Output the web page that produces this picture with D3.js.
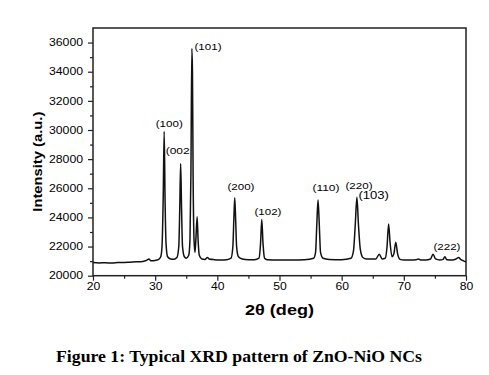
<!DOCTYPE html>
<html>
<head>
<meta charset="utf-8">
<style>
  body { margin: 0; background: #fff; }
  text { font-family: "Liberation Sans", Arial, sans-serif; fill: #000; }
</style>
</head>
<body>
<svg width="489" height="375"></svg>
<script src="https://cdn.jsdelivr.net/npm/d3@7"></script>
<script>

// XRD pattern: 2theta (deg) and intensity (a.u.)
var twoTheta = [20.0, 21.0, 22.0, 23.0, 24.0, 25.0, 26.0, 27.0, 28.0, 28.6, 29.0, 29.3, 30.0, 30.5, 30.9,
  31.1, 31.3, 31.45, 31.6, 31.75, 32.0, 32.5, 33.0, 33.5, 33.8, 33.95, 34.1, 34.25, 34.4, 34.7,
  35.0, 35.4, 35.6, 35.75, 35.9, 36.0, 36.1, 36.25, 36.4, 36.55, 36.75, 36.9, 37.1, 37.5, 38.0,
  38.4, 38.7, 39.5, 40.5, 41.5, 42.2, 42.5, 42.65, 42.8, 42.95, 43.1, 43.4, 44.0, 45.0, 46.0,
  46.7, 46.95, 47.15, 47.35, 47.6, 48.0, 50.0, 52.0, 54.0, 55.5, 55.8, 56.0, 56.2, 56.4, 56.6,
  57.0, 58.0, 60.0, 61.5, 61.9, 62.2, 62.45, 62.7, 63.0, 63.4, 64.0, 65.5, 66.05, 66.5, 67.0,
  67.3, 67.55, 67.8, 68.1, 68.4, 68.7, 69.0, 69.4, 70.0, 71.0, 72.0, 72.3, 72.7, 73.5, 74.3,
  74.7, 75.1, 75.8, 76.3, 76.6, 76.9, 77.8, 78.4, 78.8, 79.2, 79.6, 80.0];
var intensity = [20900, 20880, 20890, 20870, 20900, 20910, 20930, 20950, 20980, 21050, 21150, 21020, 21050, 21100, 21300,
  22000, 25500, 29900, 25000, 22200, 21300, 21150, 21130, 21250, 22000, 24500, 27700, 24500, 22000, 21300,
  21200, 21400, 22500, 27000, 35600, 34000, 27000, 22500, 21600, 22500, 24050, 22500, 21400, 21150, 21120,
  21250, 21150, 21100, 21080, 21100, 21200, 22000, 23800, 25350, 23800, 22000, 21300, 21150, 21100, 21100,
  21200, 22200, 23850, 22200, 21200, 21100, 21080, 21080, 21100, 21200, 21600, 23500, 25200, 23500, 21600,
  21200, 21120, 21100, 21200, 21700, 23600, 25380, 23500, 21800, 21250, 21150, 21150, 21480, 21150, 21200,
  22000, 23550, 22200, 21300, 21500, 22300, 21500, 21120, 21080, 21080, 21100, 21150, 21080, 21080, 21150,
  21480, 21150, 21080, 21120, 21300, 21100, 21080, 21150, 21250, 21100, 21020, 20950];

// reflection labels, anchored in data units
var peakLabels = ["(100)", "(002", "(101)", "(200)", "(102)", "(110)", "(220)", "(103)", "(222)"];
var labelTheta = [32.27, 31.69, 38.5, 43.8, 48.15, 57.48, 62.79, 65.15, 76.94];
var labelInt = [30230, 28330, 35500, 25880, 24170, 25840, 25950, 25270, 21770];

var xTicks = [20, 30, 40, 50, 60, 70, 80];
var yTicks = [20000, 22000, 24000, 26000, 28000, 30000, 32000, 34000, 36000];

var svg = d3.select("svg"),
    mLeft = 93, mRight = 466, mTop = 28, mBottom = 275.7;

var x = d3.scaleLinear().domain([20, 80]).range([mLeft, mRight]);
var y = d3.scaleLinear().domain([20000, 37000]).range([mBottom, mTop]);

svg.append("rect").attr("width", 489).attr("height", 375).attr("fill", "#fff");

function stretch(sel, perChar) {
  sel.attr("textLength", function() { return this.textContent.length * perChar; })
     .attr("lengthAdjust", "spacingAndGlyphs");
}

// minor ticks
svg.append("g")
    .attr("transform", "translate(0," + mBottom + ")")
    .call(d3.axisBottom(x).tickValues(d3.range(25, 80, 10)).tickSize(3).tickFormat(""))
    .call(function(g) { g.select(".domain").remove(); });
svg.append("g")
    .attr("transform", "translate(" + mLeft + ",0)")
    .call(d3.axisLeft(y).tickValues(d3.range(21000, 37000, 2000)).tickSize(3).tickFormat(""))
    .call(function(g) { g.select(".domain").remove(); });

// major ticks
var gx = svg.append("g")
    .attr("transform", "translate(0," + mBottom + ")")
    .call(d3.axisBottom(x).tickValues(xTicks).tickSize(5).tickPadding(2).tickFormat(d3.format("d")));
gx.select(".domain").remove();
gx.selectAll("text").attr("font-size", 10).call(stretch, 6.75);

var gy = svg.append("g")
    .attr("transform", "translate(" + mLeft + ",0)")
    .call(d3.axisLeft(y).tickValues(yTicks).tickSize(5).tickPadding(5).tickFormat(d3.format("d")));
gy.select(".domain").remove();
gy.selectAll("text").attr("font-size", 10).call(stretch, 6.8);

svg.selectAll(".tick line").attr("stroke", "#222").attr("stroke-width", 1.2);

// frame
svg.append("rect")
    .attr("x", mLeft).attr("y", mTop)
    .attr("width", mRight - mLeft).attr("height", mBottom - mTop)
    .attr("fill", "none").attr("stroke", "#222").attr("stroke-width", 1.5);

// pattern
var line = d3.line()
    .x(function(d, i) { return x(twoTheta[i]); })
    .y(function(d) { return y(d); })
    .curve(d3.curveMonotoneX);

svg.append("path")
    .datum(intensity)
    .attr("fill", "none")
    .attr("stroke", "#111")
    .attr("stroke-width", 1.5)
    .attr("stroke-linejoin", "round")
    .attr("d", line);

// reflection labels
svg.append("g").selectAll("text")
    .data(peakLabels)
    .enter().append("text")
    .attr("x", function(d, i) { return x(labelTheta[i]); })
    .attr("y", function(d, i) { return y(labelInt[i]); })
    .attr("text-anchor", function(d) { return d === "(002" ? "start" : "middle"; })
    .attr("font-size", function(d) { return d === "(103)" ? 11 : 9.5; })
    .attr("textLength", function(d) { return d === "(103)" ? 30.5 : d === "(002" ? 24 : 27; })
    .attr("lengthAdjust", "spacingAndGlyphs")
    .text(function(d) { return d; });

// axis titles
svg.append("text")
    .attr("x", (mLeft + mRight) / 2).attr("y", 315)
    .attr("text-anchor", "middle")
    .attr("font-size", 15).attr("font-weight", "bold")
    .attr("textLength", 69).attr("lengthAdjust", "spacingAndGlyphs")
    .text("2θ (deg)");

svg.append("text")
    .attr("transform", "translate(42,161.7) rotate(-90)")
    .attr("text-anchor", "middle")
    .attr("font-size", 13.5).attr("font-weight", "bold")
    .attr("textLength", 100).attr("lengthAdjust", "spacingAndGlyphs")
    .text("Intensity (a.u.)");

// caption
svg.append("text")
    .attr("x", 56).attr("y", 362)
    .style("font-family", "'Liberation Serif', 'Times New Roman', serif")
    .attr("font-size", 16).attr("font-weight", "bold")
    .attr("textLength", 366).attr("lengthAdjust", "spacingAndGlyphs")
    .text("Figure 1: Typical XRD pattern of ZnO-NiO NCs");

</script>
</body>
</html>
